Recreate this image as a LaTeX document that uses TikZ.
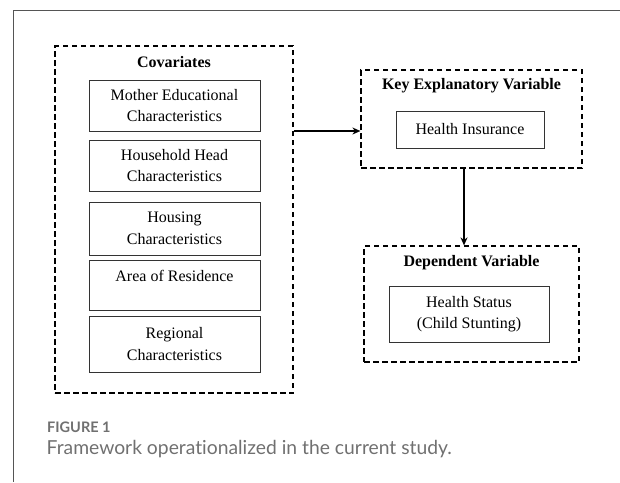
\documentclass[tikz,border=0pt]{standalone}
\usepackage{fontspec}
\setmainfont{Liberation Serif}
\newfontfamily\capfont[Ligatures={NoCommon,NoContextual}]{Lato}
\usetikzlibrary{arrows.meta}
\definecolor{framegray}{HTML}{555555}
\definecolor{capgray}{HTML}{707070}
\begin{document}
\begin{tikzpicture}[x=1pt,y=-1pt,
  group/.style={draw,dashed,line width=1.2pt,dash pattern=on 5.5pt off 3.5pt,inner sep=0pt},
  item/.style={draw=black!80,line width=0.9pt,inner sep=0pt,align=center,
    font=\fontsize{16}{21.5}\selectfont},
  heading/.style={font=\fontsize{16}{19}\selectfont\bfseries},
  link/.style={line width=1.5pt,-{Stealth[length=8pt,width=7pt]}}]
\useasboundingbox (0,0) rectangle (620,482);
% page rules
\draw[framegray,line width=1pt] (620,10) -- (13,10) -- (13,482);

% covariates group
\node[group,minimum width=238pt,minimum height=347pt] (cov) at (174,219.5) {};
\node[heading] (covt) at (174,62) {Covariates};
\node[item,minimum width=171pt,minimum height=51pt] (c1) at (174.5,105.5) {Mother Educational\\Characteristics};
\node[item,minimum width=171pt,minimum height=51pt] (c2) at (174.5,165.5) {Household Head\\Characteristics};
\node[item,minimum width=171pt,minimum height=53pt] (c3) at (174.5,228.5) {Housing\\Characteristics};
\node[item,minimum width=171pt,minimum height=50pt] (c4) at (174.5,285) {};
\node[font=\fontsize{16}{21.5}\selectfont] (c4t) at (174.5,276) {Area of Residence};
\node[item,minimum width=171pt,minimum height=56pt] (c5) at (174.5,344) {Regional\\Characteristics};

% key explanatory variable group
\node[group,minimum width=221pt,minimum height=98pt] (key) at (471.5,119) {};
\node[heading] (keyt) at (471.5,86) {Key Explanatory Variable};
\node[item,minimum width=148pt,minimum height=37pt] (hi) at (470,129.5) {Health Insurance};

% dependent variable group
\node[group,minimum width=215pt,minimum height=116pt] (dep) at (471.5,304) {};
\node[heading] (dept) at (471.5,263) {Dependent Variable};
\node[item,minimum width=160pt,minimum height=56pt] (hs) at (469,314) {Health Status\\(Child Stunting)};

% connectors
\coordinate (hlevel) at (0,131);
\coordinate (vline) at (464,0);
\draw[link] (cov.east |- hlevel) -- (key.west |- hlevel);
\draw[link] (key.south -| vline) -- (dep.north -| vline);

% caption
\node[anchor=west,inner sep=0pt,text=capgray,font=\capfont\fontsize{14.5}{16}\selectfont\bfseries] (fig) at (47,427.5) {FIGURE 1};
\node[anchor=west,inner sep=0pt,text=capgray,font=\capfont\fontsize{19.3}{22}\selectfont] (cap) at (46.5,449.5) {Framework operationalized in the current study.};
\end{tikzpicture}
\end{document}
